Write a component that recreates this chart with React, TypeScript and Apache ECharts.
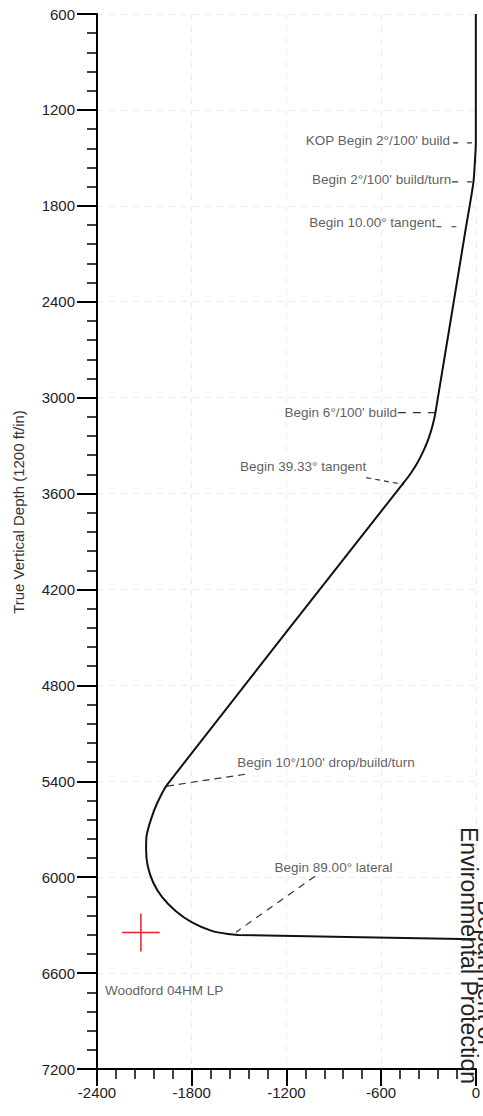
import React, { useEffect, useRef } from "react";
import * as echarts from "echarts";

// Well trajectory (vertical section, ft)
const trajX = [0, 0, -5, -15, -38, -62, -256, -274, -299, -331, -369, -414, -458, -1954, -2017, -2058, -2086, -2089, -2079, -2044, -1986, -1902, -1798, -1673, -1569, -1506, 0];
const trajTVD = [600, 1406, 1512, 1650, 1794, 1931, 3094, 3175, 3255, 3332, 3406, 3476, 3533, 5419, 5533, 5638, 5742, 5825, 5929, 6033, 6127, 6211, 6283, 6336, 6356, 6361, 6388];

// Annotations
const noteText = [
  "KOP Begin 2°/100' build",
  "Begin 2°/100' build/turn",
  "Begin 10.00° tangent",
  "Begin 6°/100' build",
  "Begin 39.33° tangent",
  "Begin 10°/100' drop/build/turn",
  "Begin 89.00° lateral",
];
const noteX = [-163, -156, -256, -500, -694, -1512, -1275];
const noteY = [1394, 1638, 1906, 3094, 3431, 5281, 5938];
const noteSide = ["left", "left", "left", "left", "left", "right", "right"];

// Leader lines
const leaderX1 = [-144, -150, -250, -494, -694, -1462, -1019];
const leaderY1 = [1406, 1650, 1931, 3094, 3500, 5356, 5994];
const leaderX2 = [-25, -25, -62, -256, -456, -1962, -1519];
const leaderY2 = [1406, 1650, 1931, 3094, 3544, 5431, 6344];
const leaderDash = [[5, 9], [6, 9], [5, 10], [8, 7], [5, 4], [7, 5], [7, 6]];

// Target
const targetX = -2122;
const targetY = 6346;
const targetHalfX = 119;
const targetHalfY = 119;
const targetName = "Woodford 04HM LP";
const targetLabelX = -2350;
const targetLabelY = 6706;

// Axis ticks
const xMin = -2400, xMax = 0, xStep = 600;
const yMin = 600, yMax = 7200, yStep = 600;

const FONT = "'Liberation Sans', Arial, Helvetica, sans-serif";

export default function App() {
  const ref = useRef<HTMLDivElement>(null);
  useEffect(() => {
    if (!ref.current) return;
    const chart = echarts.init(ref.current, undefined, { renderer: "svg" });

    const series: any[] = [];
    series.push({
      type: "line",
      data: trajX.map((x, i) => [x, trajTVD[i]]),
      showSymbol: false,
      symbol: "none",
      smooth: 0.25,
      lineStyle: { color: "#111", width: 2 },
      z: 5,
    });
    leaderX1.forEach((x1, i) => {
      series.push({
        type: "line",
        data: [[x1, leaderY1[i]], [leaderX2[i], leaderY2[i]]],
        symbol: "none",
        lineStyle: { color: "#333", width: 1.2, type: leaderDash[i] },
        z: 4,
      });
    });
    series.push({
      type: "scatter",
      symbolSize: 0,
      data: noteText.map((t, i) => ({
        value: [noteX[i], noteY[i]],
        name: t,
        label: { position: noteSide[i], distance: 0 },
      })),
      label: {
        show: true,
        formatter: (p: any) => p.name,
        fontFamily: FONT,
        fontSize: 13.5,
        color: "#333",
      },
      silent: true,
    });
    series.push({
      type: "line",
      data: [[targetX - targetHalfX, targetY], [targetX + targetHalfX, targetY]],
      symbol: "none",
      lineStyle: { color: "#e8202a", width: 1.5 },
    });
    series.push({
      type: "line",
      data: [[targetX, targetY - targetHalfY], [targetX, targetY + targetHalfY]],
      symbol: "none",
      lineStyle: { color: "#e8202a", width: 1.5 },
    });
    series.push({
      type: "scatter",
      symbolSize: 0,
      data: [{ value: [targetLabelX, targetLabelY], name: targetName }],
      label: {
        show: true,
        position: "right",
        distance: 0,
        formatter: (p: any) => p.name,
        fontFamily: FONT,
        fontSize: 13.5,
        color: "#333",
      },
      silent: true,
    });

    chart.setOption({
      animation: false,
      backgroundColor: "#fff",
      grid: { left: 97, right: 2, top: 14, bottom: 47, containLabel: false },
      xAxis: {
        type: "value",
        min: xMin,
        max: xMax,
        interval: xStep,
        position: "bottom",
        axisLine: { show: true, onZero: false, lineStyle: { color: "#000", width: 2 } },
        axisTick: { show: true, length: 17, lineStyle: { color: "#000", width: 2 } },
        minorTick: { show: true, splitNumber: 5, length: 10, lineStyle: { color: "#000", width: 1.5 } },
        axisLabel: {
          margin: 16, fontSize: 15, color: "#222", fontFamily: FONT,
          showMinLabel: true, showMaxLabel: true,
          formatter: (v: number) => String(v),
        },
        splitLine: { show: true, lineStyle: { color: "#ececec", width: 1, type: [6, 6] } },
      },
      yAxis: {
        type: "value",
        inverse: true,
        min: yMin,
        max: yMax,
        interval: yStep,
        axisLine: { show: true, onZero: false, lineStyle: { color: "#000", width: 2 } },
        axisTick: { show: true, length: 20, lineStyle: { color: "#000", width: 2 } },
        minorTick: { show: true, splitNumber: 5, length: 10, lineStyle: { color: "#000", width: 1.5 } },
        axisLabel: {
          margin: 22, fontSize: 15, color: "#222", fontFamily: FONT,
          showMinLabel: true, showMaxLabel: true,
          formatter: (v: number) => String(v),
        },
        splitLine: { show: true, lineStyle: { color: "#ececec", width: 1, type: [6, 6] } },
      },
      graphic: [
        {
          type: "text",
          x: 18,
          y: 512,
          rotation: Math.PI / 2,
          style: {
            text: "True Vertical Depth (1200 ft/in)",
            fontFamily: FONT,
            fontSize: 15,
            fill: "#333",
            align: "center",
            verticalAlign: "middle",
          },
        },
        {
          type: "text",
          x: 469,
          y: 827,
          rotation: -Math.PI / 2,
          style: {
            text: "Environmental Protection",
            fontFamily: FONT,
            fontSize: 23,
            fill: "#222",
            align: "left",
            verticalAlign: "middle",
          },
          z: 10,
        },
        {
          type: "text",
          x: 486,
          y: 900,
          rotation: -Math.PI / 2,
          style: {
            text: "Department of",
            fontFamily: FONT,
            fontSize: 23,
            fill: "#222",
            align: "left",
            verticalAlign: "middle",
          },
          z: 10,
        },
      ],
      series,
    });
    return () => chart.dispose();
  }, []);
  return (
    <div
      ref={ref}
      style={{ position: "absolute", left: 0, top: 0, width: 483, height: 1116 }}
    />
  );
}
